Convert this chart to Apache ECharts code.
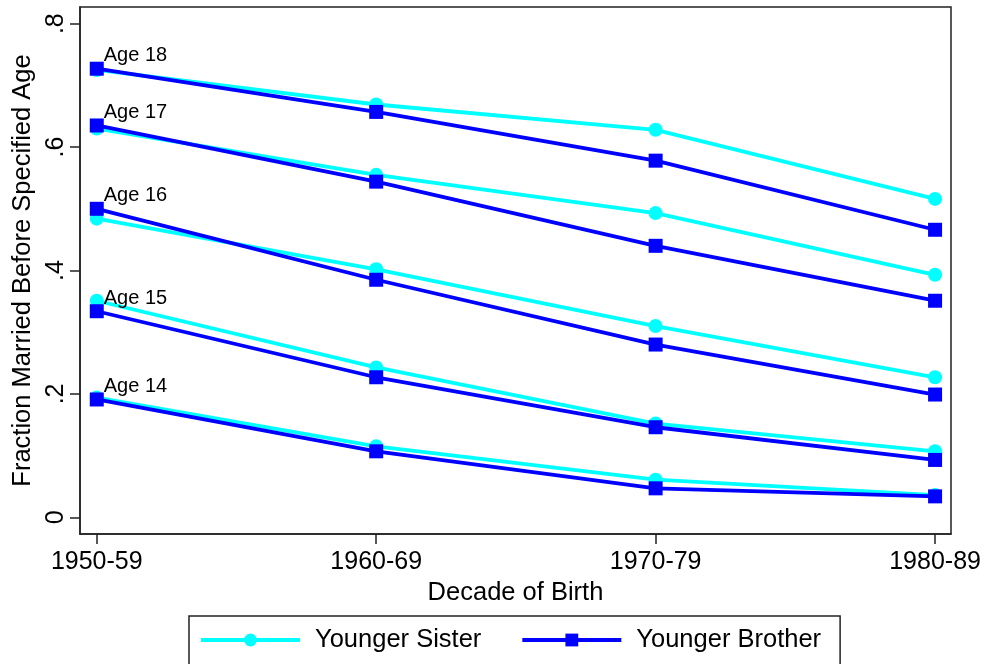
<!DOCTYPE html>
<html>
<head>
    <meta charset="utf-8">
    <script src="https://cdn.jsdelivr.net/npm/echarts@6/dist/echarts.min.js"></script>
    <style>
        html, body { margin: 0; padding: 0; background: #fff; }
        #chart { width: 987px; height: 664px; }
    </style>
</head>
<body>
<div id="chart"></div>
<script>
    // data
    var decades = ['1950-59', '1960-69', '1970-79', '1980-89'];
    var ageLabels = ['Age 14', 'Age 15', 'Age 16', 'Age 17', 'Age 18'];
    var yTicks = [0, 0.2, 0.4, 0.6, 0.8];

    var sister14 = [0.194, 0.115, 0.061, 0.036];
    var sister15 = [0.351, 0.243, 0.152, 0.107];
    var sister16 = [0.484, 0.402, 0.310, 0.227];
    var sister17 = [0.630, 0.555, 0.493, 0.393];
    var sister18 = [0.725, 0.669, 0.628, 0.516];

    var brother14 = [0.191, 0.107, 0.047, 0.034];
    var brother15 = [0.334, 0.227, 0.146, 0.093];
    var brother16 = [0.500, 0.385, 0.280, 0.199];
    var brother17 = [0.635, 0.544, 0.440, 0.351];
    var brother18 = [0.727, 0.657, 0.578, 0.466];

    var sisterSets = [sister14, sister15, sister16, sister17, sister18];
    var brotherSets = [brother14, brother15, brother16, brother17, brother18];

    var font = 'Liberation Sans, Arial, sans-serif';
    var cyan = '#00FFFF';
    var blue = '#0000FF';
    var frame = '#222';

    function toPoints(values) {
        return values.map(function (v, i) { return [i, v]; });
    }

    var series = [];
    sisterSets.forEach(function (vals) {
        series.push({
            name: 'Younger Sister',
            type: 'line',
            data: toPoints(vals),
            symbol: 'circle',
            symbolSize: 14,
            lineStyle: { color: cyan, width: 3.8 },
            itemStyle: { color: cyan },
            z: 2
        });
    });
    brotherSets.forEach(function (vals, k) {
        var pts = toPoints(vals);
        // "Age NN" tag sits just above-right of the first point
        pts[0] = {
            value: pts[0],
            label: {
                show: true,
                position: 'right',
                distance: 0,
                offset: [0, -13],
                formatter: ageLabels[k],
                color: '#000',
                fontSize: 20,
                fontFamily: font
            }
        };
        series.push({
            name: 'Younger Brother',
            type: 'line',
            data: pts,
            symbol: 'rect',
            symbolSize: 14,
            lineStyle: { color: blue, width: 3.8 },
            itemStyle: { color: blue },
            z: 3
        });
    });

    var chart = echarts.init(document.getElementById('chart'));
    chart.setOption({
        animation: false,
        backgroundColor: '#fff',
        grid: {
            left: 80, right: 36, top: 7, bottom: 130,
            containLabel: false,
            outerBoundsMode: 'none',
            show: true, borderColor: frame, borderWidth: 1.5
        },
        legend: {
            data: ['Younger Sister', 'Younger Brother'],
            left: 189,
            top: 616,
            itemWidth: 99,
            itemHeight: 16,
            itemGap: 39,
            padding: [11, 19, 30, 10],
            borderColor: frame,
            borderWidth: 1.5,
            lineStyle: { width: 4 },
            textStyle: {
                fontSize: 25.5, lineHeight: 26, fontFamily: font, color: '#000',
                padding: [0, 0, 0, 10]
            }
        },
        xAxis: {
            type: 'value',
            min: -0.06,
            max: 3.057,
            name: 'Decade of Birth',
            nameLocation: 'middle',
            nameGap: 46,
            nameTextStyle: { fontSize: 25.5, fontFamily: font, color: '#000' },
            splitLine: { show: false },
            axisLine: { show: true, onZero: false, lineStyle: { color: frame, width: 1.5 } },
            axisTick: { show: true, length: 10, customValues: [0, 1, 2, 3], lineStyle: { color: frame, width: 1.5 } },
            axisLabel: {
                customValues: [0, 1, 2, 3],
                formatter: function (v) { return decades[Math.round(v)]; },
                fontSize: 25, fontFamily: font, color: '#000', margin: 16
            }
        },
        yAxis: {
            type: 'value',
            min: -0.027,
            max: 0.827,
            name: 'Fraction Married Before Specified Age',
            nameLocation: 'middle',
            nameGap: 44,
            nameTextStyle: { fontSize: 25.5, fontFamily: font, color: '#000' },
            splitLine: { show: false },
            axisLine: { show: true, onZero: false, lineStyle: { color: frame, width: 1.5 } },
            axisTick: { show: true, length: 10, customValues: yTicks, lineStyle: { color: frame, width: 1.5 } },
            axisLabel: {
                customValues: yTicks,
                rotate: 90,
                formatter: function (v) {
                    if (v === 0) return '0';
                    return String(Math.round(v * 10) / 10).replace(/^0/, '');
                },
                fontSize: 25, fontFamily: font, color: '#000', margin: 11
            }
        },
        series: series
    });
</script>
</body>
</html>
